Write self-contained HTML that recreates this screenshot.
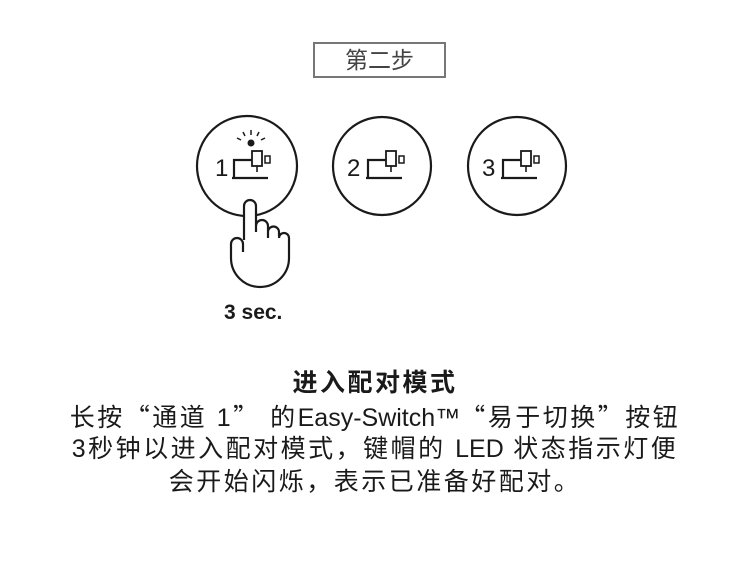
<!DOCTYPE html>
<html><head><meta charset="utf-8"><style>
body{margin:0;width:750px;height:575px;background:#fff;position:relative;overflow:hidden;font-family:"Liberation Sans","Noto Sans CJK SC",sans-serif;color:#1a1a1a}
.box{position:absolute;left:313px;top:42px;width:129px;height:32px;border:2px solid #777;text-align:center;font-size:23px;line-height:32px;color:#444}
.l{position:absolute;left:0;width:750px;text-align:center;font-size:25px;letter-spacing:2.5px;line-height:32px;white-space:nowrap}
.q{font-family:"Noto Sans CJK SC",sans-serif}
.e{letter-spacing:0}
</style></head><body>
<div class="box">第二步</div>
<svg width="750" height="575" style="position:absolute;left:0;top:0" fill="none" stroke="#1a1a1a" stroke-width="2.2">
<circle cx="247" cy="166" r="50"/>
<circle cx="382" cy="166" r="49"/>
<circle cx="517" cy="166" r="49"/>
<g font-family="Liberation Sans, sans-serif" font-size="24" fill="#1a1a1a" stroke="none">
<text x="215" y="176">1</text><text x="347" y="176">2</text><text x="482" y="176">3</text>
</g>
<g id="ic">
<path d="M234 178 V160 H252"/><path d="M232 178 H268"/><rect x="252" y="151" width="10" height="15" stroke-width="1.8"/><path d="M257 166 V172" stroke-width="1.6"/><rect x="265" y="156" width="5" height="7" stroke-width="1.5"/>
</g>
<use href="#ic" x="134"/><use href="#ic" x="269"/>
<circle cx="251" cy="143" r="3.5" fill="#1a1a1a" stroke="none"/>
<g stroke-width="1.5"><path d="M237 138 L241 140"/><path d="M243 132 L245 136"/><path d="M251 130 V135"/><path d="M259 132 L257 136"/><path d="M265 138 L261 140"/></g>
<path d="M244 240 V206 a6 6 0 0 1 12 0 V232 M256 226 a6 6 0 0 1 12 0 V238 M268 232 a5.5 5.5 0 0 1 11 0 V236 M279 238 a5 5 0 0 1 10 0 V258 a29 29 0 0 1 -58 0 V244 a6 6 0 0 1 12 0 V252" fill="#fff"/>
<text x="224" y="319" font-family="Liberation Sans, sans-serif" font-weight="bold" font-size="21" fill="#1a1a1a" stroke="none">3 sec.</text>
</svg>
<div class="l" style="top:367px;font-weight:bold">进入配对模式</div>
<div class="l" style="top:400px">长按<span class="q">“</span>通道 1<span class="q">”</span> 的<span class="e">Easy-Switch™</span><span class="q">“</span>易于切换<span class="q">”</span>按钮</div>
<div class="l" style="top:433px">3秒钟以进入配对模式，键帽的 <span class="e">LED</span> 状态指示灯便</div>
<div class="l" style="top:466px">会开始闪烁，表示已准备好配对。</div>
</body></html>
